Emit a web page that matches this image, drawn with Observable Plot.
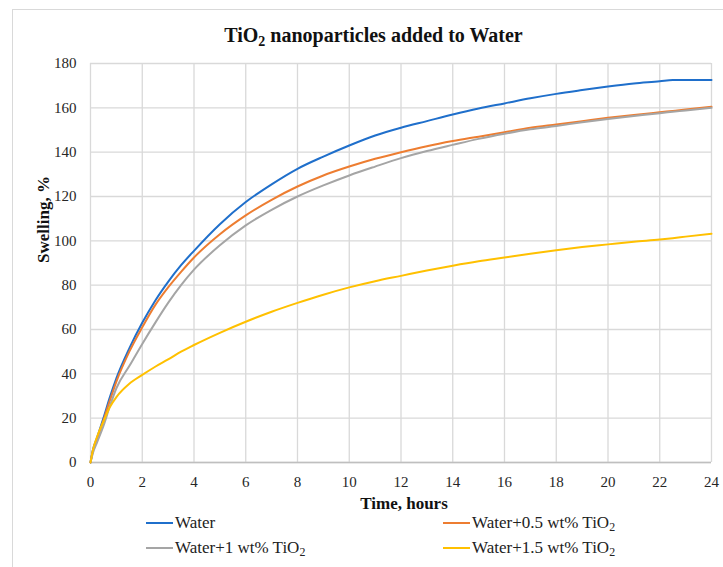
<!DOCTYPE html>
<html><head><meta charset="utf-8">
<script src="https://cdn.jsdelivr.net/npm/d3@7"></script>
<script src="https://cdn.jsdelivr.net/npm/@observablehq/plot@0.6"></script>
<style>
body{margin:0;background:#fff;font-family:"Liberation Serif","DejaVu Serif",serif;color:#222}
#wrap{position:relative;width:723px;height:567px;overflow:hidden}
#frame{position:absolute;left:12px;top:9px;width:760px;height:620px;border:1px solid #d9d9d9;pointer-events:none}
#title{box-sizing:border-box;height:55px;padding-top:24px;padding-left:24px;text-align:center;font-weight:bold;font-size:20px;line-height:22px;color:#111}
#title sub, #legend sub{font-size:0.7em;line-height:0;vertical-align:-0.25em}
#legend{position:relative;height:50px;font-size:17px;color:#222}
.li{position:absolute;display:flex;align-items:center;white-space:nowrap;line-height:18px}
.sw{display:inline-block;width:27px;height:2.5px;margin-right:2px}
svg{display:block}
</style>
</head><body>
<div id="wrap">
<div id="frame"></div>
<div id="title">TiO<sub>2</sub> nanoparticles added to Water</div>
<div id="chart"></div>
<div id="legend"></div>
</div>
<script>
const seriesNames = ["Water", "Water+0.5 wt% TiO2", "Water+1 wt% TiO2", "Water+1.5 wt% TiO2"];
const seriesLabels = ["Water", "Water+0.5 wt% TiO<sub>2</sub>", "Water+1 wt% TiO<sub>2</sub>", "Water+1.5 wt% TiO<sub>2</sub>"];
const seriesColors = ["#1f6fcb", "#ed7d31", "#a5a5a5", "#ffc000"];
const hours = [0, 0.1, 0.25, 0.5, 0.75, 1, 1.5, 2, 2.5, 3, 3.5, 4, 5, 6, 7, 8, 9, 10, 11, 12, 13, 14, 15, 16, 17, 18, 19, 20, 21, 22, 22.5, 23, 24];
const water   = [0, 6, 11, 20, 29.5, 38, 51.5, 63, 73, 81.5, 89, 95.5, 107.5, 117.5, 125.5, 132.5, 138, 143, 147.5, 151, 154, 157, 159.7, 162, 164.3, 166.3, 168, 169.6, 171, 172, 172.6, 172.6, 172.6];
const tio05   = [0, 5.5, 10.5, 19, 28, 36.5, 50, 61, 71, 79, 86, 92.5, 103, 111.5, 118.5, 124.5, 129.5, 133.5, 137, 140, 142.7, 145, 147, 149, 151, 152.5, 154, 155.5, 156.8, 158, 158.6, 159.2, 160.5];
const tio1    = [0, 4.5, 9, 16.5, 25.5, 33.5, 43.5, 53.5, 63, 72, 80, 87, 98, 107, 114, 120, 125, 129.5, 133.5, 137.3, 140.5, 143.3, 146, 148.3, 150.3, 151.8, 153.5, 155, 156.3, 157.6, 158.2, 158.8, 160];
const tio15   = [0, 6, 11.5, 18.5, 25, 29.5, 35.5, 39.5, 43.2, 46.5, 50, 53, 58.5, 63.5, 68, 72, 75.7, 79, 81.8, 84.2, 86.6, 88.8, 90.8, 92.5, 94.2, 95.8, 97.2, 98.4, 99.6, 100.6, 101.2, 101.9, 103.2];
const xTicks = [0, 2, 4, 6, 8, 10, 12, 14, 16, 18, 20, 22, 24];
const yTicks = [0, 20, 40, 60, 80, 100, 120, 140, 160, 180];

const allSeries = [water, tio05, tio1, tio15];
const rows = [];
allSeries.forEach((vals, i) => hours.forEach((t, j) => rows.push({series: seriesNames[i], t, v: vals[j]})));

const chart = Plot.plot({
  width: 723, height: 462,
  marginLeft: 90, marginRight: 12, marginTop: 8, marginBottom: 55,
  style: {fontFamily: '"Liberation Serif","DejaVu Serif",serif', fontSize: "15px", color: "#262626", background: "transparent"},
  x: {domain: [0, 24]},
  y: {domain: [0, 180]},
  color: {domain: seriesNames, range: seriesColors},
  marks: [
    Plot.gridX(xTicks, {stroke: "#d9d9d9", strokeOpacity: 1, strokeWidth: 1.3}),
    Plot.gridY(yTicks, {stroke: "#d9d9d9", strokeOpacity: 1, strokeWidth: 1.3}),
    Plot.ruleY([0], {stroke: "#bfbfbf", strokeWidth: 1.5}),
    Plot.axisX(xTicks, {tickSize: 0, tickPadding: 14, label: null, fontSize: 15}),
    Plot.axisY(yTicks, {tickSize: 0, tickPadding: 14, label: null, fontSize: 15}),
    Plot.line(rows, {x: "t", y: "v", z: "series", stroke: "series", strokeWidth: 2, curve: "monotone-x"}),
    Plot.text(["Time, hours"], {frameAnchor: "bottom", dx: 3, dy: 46, fontWeight: "bold", fontSize: 17, fill: "#111"}),
    Plot.text(["Swelling, %"], {frameAnchor: "left", dx: -47, rotate: -90, fontWeight: "bold", fontSize: 17, fill: "#111"})
  ]
});
document.getElementById("chart").appendChild(chart);

const legendPos = [[146, -3], [443, -3], [146, 22], [443, 22]];
const leg = document.getElementById("legend");
seriesNames.forEach((n, i) => {
  const d = document.createElement("div");
  d.className = "li";
  d.style.left = legendPos[i][0] + "px";
  d.style.top = legendPos[i][1] + "px";
  d.innerHTML = `<span class="sw" style="background:${seriesColors[i]}"></span><span>${seriesLabels[i]}</span>`;
  leg.appendChild(d);
});
</script>
</body></html>
